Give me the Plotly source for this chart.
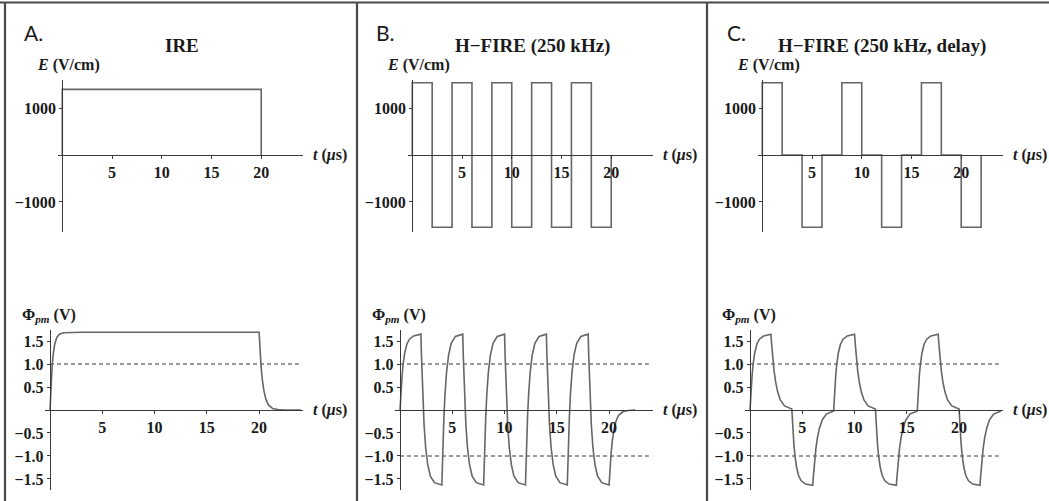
import plotly.graph_objects as go

W, H = 1049, 501

# ---------------- data ----------------
t_ticks = [5, 10, 15, 20]
e_ticks = [1000, -1000]
phi_ticks = [1.5, 1.0, 0.5, -0.5, -1.0, -1.5]
phi_ticktext = ["1.5", "1.0", "0.5", "\u22120.5", "\u22121.0", "\u22121.5"]
e_ticktext = ["1000", "\u22121000"]

# electric field waveforms (V/cm), drawn as steps
ire_t = [0, 0, 20, 20]
ire_e = [0, 1400, 1400, 0]

hfire_t = [0, 0, 2, 4, 6, 8, 10, 12, 14, 16, 18, 20]
hfire_e = [0, 1540, -1540, 1540, -1540, 1540, -1540, 1540, -1540, 1540, -1540, 0]

delay_t = [0, 0, 2, 4, 6, 8, 10, 12, 14, 16, 18, 20, 22]
delay_e = [0, 1540, 0, -1540, 0, 1540, 0, -1540, 0, 1540, 0, -1540, 0]

# transmembrane potential (V)
phi_ire_t = [0, 0.05, 0.1, 0.2, 0.3, 0.45, 0.65, 0.9, 1.3, 2.0, 3.0, 20.0,
             20.05, 20.1, 20.2, 20.3, 20.45, 20.65, 20.9, 21.3, 21.8, 22.5, 24.0]
phi_ire_v = [0, 0.32, 0.58, 0.95, 1.20, 1.43, 1.58, 1.65, 1.68, 1.69, 1.69, 1.69,
             1.45, 1.25, 0.92, 0.68, 0.43, 0.23, 0.11, 0.03, 0.01, 0.0, 0.0]

phi_hfire_t = [
    0, 0.05, 0.1, 0.2, 0.3, 0.45, 0.65, 0.9, 1.3, 2.0,
    2.05, 2.1, 2.2, 2.3, 2.45, 2.65, 2.9, 3.3, 4.0,
    4.05, 4.1, 4.2, 4.3, 4.45, 4.65, 4.9, 5.3, 6.0,
    6.05, 6.1, 6.2, 6.3, 6.45, 6.65, 6.9, 7.3, 8.0,
    8.05, 8.1, 8.2, 8.3, 8.45, 8.65, 8.9, 9.3, 10.0,
    10.05, 10.1, 10.2, 10.3, 10.45, 10.65, 10.9, 11.3, 12.0,
    12.05, 12.1, 12.2, 12.3, 12.45, 12.65, 12.9, 13.3, 14.0,
    14.05, 14.1, 14.2, 14.3, 14.45, 14.65, 14.9, 15.3, 16.0,
    16.05, 16.1, 16.2, 16.3, 16.45, 16.65, 16.9, 17.3, 18.0,
    18.05, 18.1, 18.2, 18.3, 18.45, 18.65, 18.9, 19.3, 20.0,
    20.05, 20.1, 20.2, 20.3, 20.45, 20.65, 20.9, 21.3, 21.8, 22.5,
]
phi_hfire_v = [
    0, 0.24, 0.44, 0.76, 1.00, 1.24, 1.43, 1.54, 1.61, 1.65,
    1.19, 0.79, 0.16, -0.32, -0.81, -1.19, -1.44, -1.58, -1.63,
    -1.17, -0.77, -0.15, 0.33, 0.82, 1.20, 1.45, 1.60, 1.65,
    1.19, 0.79, 0.16, -0.32, -0.81, -1.19, -1.44, -1.58, -1.63,
    -1.17, -0.77, -0.15, 0.33, 0.82, 1.20, 1.45, 1.60, 1.65,
    1.19, 0.79, 0.16, -0.32, -0.81, -1.19, -1.44, -1.58, -1.63,
    -1.17, -0.77, -0.15, 0.33, 0.82, 1.20, 1.45, 1.60, 1.65,
    1.19, 0.79, 0.16, -0.32, -0.81, -1.19, -1.44, -1.58, -1.63,
    -1.17, -0.77, -0.15, 0.33, 0.82, 1.20, 1.45, 1.60, 1.65,
    1.19, 0.79, 0.16, -0.32, -0.81, -1.19, -1.44, -1.58, -1.63,
    -1.41, -1.22, -0.92, -0.69, -0.45, -0.25, -0.12, -0.04, -0.01, 0.0,
]

phi_delay_t = [
    0, 0.05, 0.1, 0.2, 0.3, 0.45, 0.65, 0.9, 1.3, 2.0,
    2.05, 2.1, 2.2, 2.3, 2.45, 2.65, 2.9, 3.3, 4.0,
    4.05, 4.1, 4.2, 4.3, 4.45, 4.65, 4.9, 5.3, 6.0,
    6.05, 6.1, 6.2, 6.3, 6.45, 6.65, 6.9, 7.3, 8.0,
    8.05, 8.1, 8.2, 8.3, 8.45, 8.65, 8.9, 9.3, 10.0,
    10.05, 10.1, 10.2, 10.3, 10.45, 10.65, 10.9, 11.3, 12.0,
    12.05, 12.1, 12.2, 12.3, 12.45, 12.65, 12.9, 13.3, 14.0,
    14.05, 14.1, 14.2, 14.3, 14.45, 14.65, 14.9, 15.3, 16.0,
    16.05, 16.1, 16.2, 16.3, 16.45, 16.65, 16.9, 17.3, 18.0,
    18.05, 18.1, 18.2, 18.3, 18.45, 18.65, 18.9, 19.3, 20.0,
    20.05, 20.1, 20.2, 20.3, 20.45, 20.65, 20.9, 21.3, 22.0,
    22.05, 22.1, 22.2, 22.3, 22.45, 22.65, 22.9, 23.3, 24.0,
]
phi_delay_v = [
    0, 0.24, 0.44, 0.76, 1.00, 1.24, 1.43, 1.54, 1.61, 1.65,
    1.48, 1.32, 1.06, 0.85, 0.61, 0.39, 0.22, 0.09, 0.02,
    -0.24, -0.44, -0.76, -1.00, -1.24, -1.43, -1.54, -1.61, -1.64,
    -1.47, -1.31, -1.05, -0.84, -0.60, -0.39, -0.22, -0.09, -0.02,
    0.24, 0.44, 0.76, 1.00, 1.24, 1.43, 1.54, 1.61, 1.65,
    1.48, 1.32, 1.06, 0.85, 0.61, 0.39, 0.22, 0.09, 0.02,
    -0.24, -0.44, -0.76, -1.00, -1.24, -1.43, -1.54, -1.61, -1.64,
    -1.47, -1.31, -1.05, -0.84, -0.60, -0.39, -0.22, -0.09, -0.02,
    0.24, 0.44, 0.76, 1.00, 1.24, 1.43, 1.54, 1.61, 1.65,
    1.48, 1.32, 1.06, 0.85, 0.61, 0.39, 0.22, 0.09, 0.02,
    -0.24, -0.44, -0.76, -1.00, -1.24, -1.43, -1.54, -1.61, -1.64,
    -1.47, -1.31, -1.05, -0.84, -0.60, -0.39, -0.22, -0.09, -0.02,
]

# electroporation threshold levels (V)
thr_ire = [1.0]
thr_hfire = [1.0, -1.0]
thr_delay = [1.0, -1.0]
thr_span = [0, 23.8]

titles = ["IRE", "H\u2212FIRE (250 kHz)", "H\u2212FIRE (250 kHz, delay)"]
letters = ["A.", "B.", "C."]

# ---------------- layout geometry (pixels) ----------------
SERIF = "Liberation Serif"
TXT = "#1a1a1a"
AXC = "#3a3a3a"
CURVE = "#666666"

top_x_px = [(58, 303), (408, 653), (758, 1003)]
bot_x_px = [(45, 303), (395, 653), (745, 1003)]
top_y_px = (80, 232)
bot_y_px = (330, 490)
top_xr = [-0.43, 24.2]
bot_xr = [-0.48, 24.2]
top_yr = [-1640, 1600]
bot_yr = [-1.74, 1.74]
title_cx = [182, 532, 882]
letter_x = [22, 374, 725]


def px_x(p):
    return p / W


def px_y(p):
    return 1 - p / H


def zero_pos(d0, d1, r):
    return d0 + (0 - r[0]) / (r[1] - r[0]) * (d1 - d0)


fig = go.Figure()
layout = {}
annotations = []
bold16 = dict(family=SERIF, size=16, color=TXT, weight="bold")
font_tick = bold16

e_series = [(ire_t, ire_e), (hfire_t, hfire_e), (delay_t, delay_e)]
phi_series = [(phi_ire_t, phi_ire_v), (phi_hfire_t, phi_hfire_v), (phi_delay_t, phi_delay_v)]
thr_series = [thr_ire, thr_hfire, thr_delay]

n = 0
for i in range(3):
    for row in ("top", "bot"):
        n += 1
        xn = "x" if n == 1 else f"x{n}"
        yn = "y" if n == 1 else f"y{n}"
        xk = "xaxis" if n == 1 else f"xaxis{n}"
        yk = "yaxis" if n == 1 else f"yaxis{n}"
        if row == "top":
            xp, yp, xr, yr = top_x_px[i], top_y_px, top_xr, top_yr
        else:
            xp, yp, xr, yr = bot_x_px[i], bot_y_px, bot_xr, bot_yr
        xd = [px_x(xp[0]), px_x(xp[1])]
        yd = [px_y(yp[1]), px_y(yp[0])]
        xpos = zero_pos(yd[0], yd[1], yr)
        ypos = zero_pos(xd[0], xd[1], xr)

        layout[xk] = dict(
            domain=xd, range=xr, anchor="free", position=xpos,
            showline=True, linecolor=AXC, linewidth=1.4,
            showgrid=False, zeroline=False,
            ticks="outside", ticklen=3, tickwidth=1.3, tickcolor=AXC,
            tickvals=t_ticks, ticktext=[str(v) for v in t_ticks],
            tickfont=font_tick, fixedrange=True,
        )
        if row == "top":
            tv, tt = e_ticks, e_ticktext
        else:
            tv, tt = phi_ticks, phi_ticktext
        layout[yk] = dict(
            domain=yd, range=yr, anchor="free", position=ypos,
            showline=True, linecolor=AXC, linewidth=1.4,
            showgrid=False, zeroline=False,
            ticks="outside", ticklen=3, tickwidth=1.3, tickcolor=AXC,
            tickvals=tv, ticktext=tt, tickfont=font_tick, fixedrange=True,
        )

        axis_x_px = xp[0] + (0 - xr[0]) / (xr[1] - xr[0]) * (xp[1] - xp[0])
        axis_y_px = yp[0] + (yr[1] - 0) / (yr[1] - yr[0]) * (yp[1] - yp[0])

        if row == "top":
            et, ev = e_series[i]
            fig.add_trace(go.Scatter(
                x=et, y=ev, mode="lines", line=dict(color=CURVE, width=1.6, shape="hv"),
                xaxis=xn, yaxis=yn, showlegend=False, hoverinfo="skip"))
            annotations.append(dict(
                x=px_x(axis_x_px - 27), y=px_y(65), xref="paper", yref="paper",
                xanchor="left", yanchor="middle", showarrow=False,
                text="<i>E</i> (V/cm)", font=bold16))
        else:
            for lv in thr_series[i]:
                fig.add_trace(go.Scatter(
                    x=thr_span, y=[lv, lv], mode="lines",
                    line=dict(color="#7a7a7a", width=1.3, dash="4px,3px"),
                    xaxis=xn, yaxis=yn, showlegend=False, hoverinfo="skip"))
            pt, pv = phi_series[i]
            fig.add_trace(go.Scatter(
                x=pt, y=pv, mode="lines", line=dict(color=CURVE, width=1.6),
                xaxis=xn, yaxis=yn, showlegend=False, hoverinfo="skip"))
            annotations.append(dict(
                x=px_x(axis_x_px - 30), y=px_y(315), xref="paper", yref="paper",
                xanchor="left", yanchor="middle", showarrow=False,
                text="\u03a6<sub><i>pm</i></sub> (V)", font=bold16))

        # time axis label at the right end of the x axis line
        annotations.append(dict(
            x=px_x(xp[1] + 8), y=px_y(axis_y_px), xref="paper", yref="paper",
            xanchor="left", yanchor="middle", showarrow=False,
            text="<i>t</i> (<i>\u03bc</i>s)", font=bold16))

    annotations.append(dict(
        x=px_x(title_cx[i]), y=px_y(46), xref="paper", yref="paper",
        xanchor="center", yanchor="middle", showarrow=False,
        text=titles[i], font=dict(family=SERIF, size=19, color=TXT, weight="bold")))
    annotations.append(dict(
        x=px_x(letter_x[i]), y=px_y(32), xref="paper", yref="paper",
        xanchor="left", yanchor="middle", showarrow=False,
        text=letters[i], font=dict(family="Lato", size=21, color=TXT)))

# panel frame
frame = dict(type="line", xref="paper", yref="paper", line=dict(color="#4a4a4a", width=2.2))
shapes = [
    dict(frame, x0=0, x1=1, y0=px_y(2.5), y1=px_y(2.5)),
    dict(frame, x0=px_x(5), x1=px_x(5), y0=0, y1=px_y(2.5)),
    dict(frame, x0=px_x(357), x1=px_x(357), y0=0, y1=px_y(2.5)),
    dict(frame, x0=px_x(707), x1=px_x(707), y0=0, y1=px_y(2.5)),
]

fig.update_layout(
    width=W, height=H, margin=dict(l=0, r=0, t=0, b=0),
    paper_bgcolor="white", plot_bgcolor="rgba(0,0,0,0)",
    showlegend=False, annotations=annotations, shapes=shapes,
    **layout,
)

fig.write_html("out.html", config={"displayModeBar": False})
